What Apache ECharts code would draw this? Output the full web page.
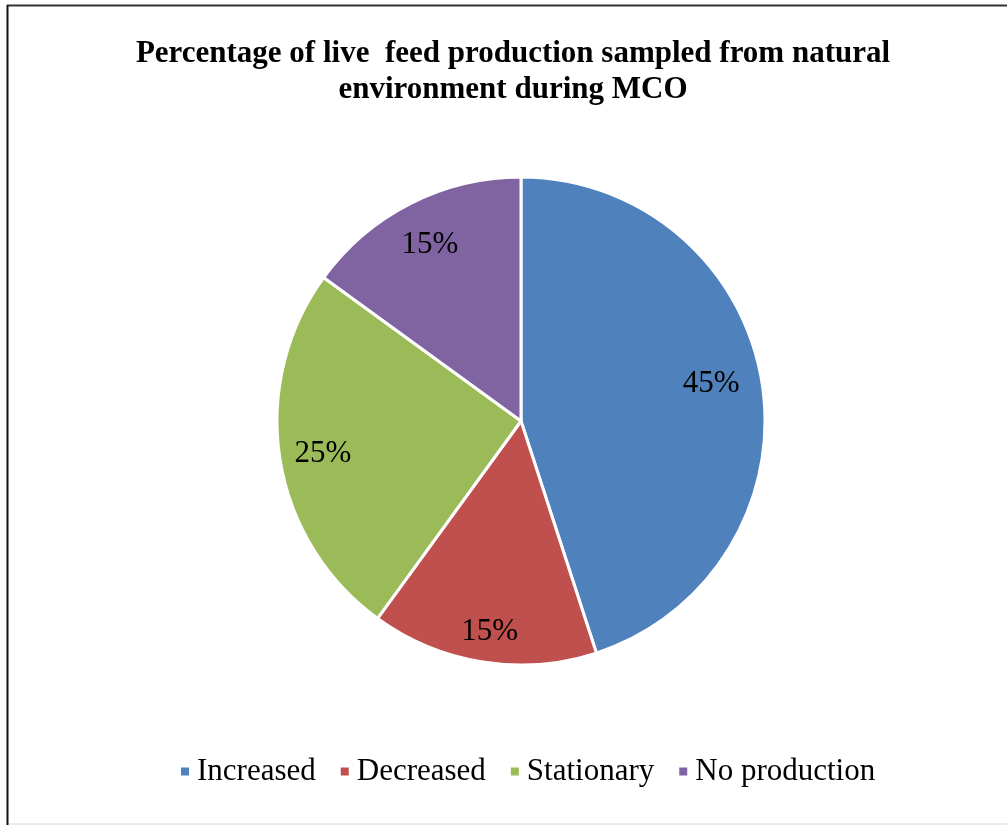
<!DOCTYPE html>
<html>
<head>
<meta charset="utf-8">
<title>Live feed production during MCO</title>
<script src="https://cdn.jsdelivr.net/npm/echarts@6/dist/echarts.min.js"></script>
<style>
  html, body { margin: 0; padding: 0; background: #ffffff; }
  #chart { width: 1007px; height: 825px; }
</style>
</head>
<body>
<div id="chart"></div>
<script>
// Categories and their shares (%)
const categories = ['Increased', 'Decreased', 'Stationary', 'No production'];
const shares = [45, 15, 25, 15];
const colors = ['#4F81BD', '#C0504D', '#9BBB59', '#8064A2'];

const titleLines = [
  'Percentage of live  feed production sampled from natural',
  'environment during MCO'
];

const serif = '"Liberation Serif", "Times New Roman", serif';
const cx = 521, cy = 421, R = 244;

// small nudges (top, right, bottom, left) so each percentage sits inside its slice
const labelNudge = [[0, 16, 12, 0], [26, 0, 0, 0], [2, 0, 0, 0], [6, 0, 0, 0]];

const pieData = categories.map((name, i) => ({
  name: name,
  value: shares[i],
  itemStyle: { color: colors[i] }
}));

const chart = echarts.init(document.getElementById('chart'), null, { renderer: 'canvas' });

chart.setOption({
  backgroundColor: '#ffffff',
  animation: false,
  color: colors,
  title: {
    text: titleLines.join('\n'),
    left: 508,
    top: 31,
    textAlign: 'center',
    textStyle: {
      fontFamily: serif,
      fontWeight: 'bold',
      fontSize: 31,
      lineHeight: 36,
      color: '#000000'
    }
  },
  legend: {
    data: categories,
    left: 174,
    top: 751,
    itemWidth: 10,
    itemHeight: 10,
    itemGap: 23,
    icon: 'rect',
    textStyle: { fontFamily: serif, fontSize: 31, color: '#000000', padding: [0, 0, 0, 2] }
  },
  graphic: [
    // chart frame: dark top and left edges, faint bottom edge
    { type: 'line', shape: { x1: 7, y1: 5.5, x2: 1007, y2: 5.5 }, style: { stroke: '#333333', lineWidth: 2 } },
    { type: 'line', shape: { x1: 7.5, y1: 5, x2: 7.5, y2: 825 }, style: { stroke: '#111111', lineWidth: 2 } },
    { type: 'line', shape: { x1: 9, y1: 824, x2: 1007, y2: 824 }, style: { stroke: '#d8d8d8', lineWidth: 1 } }
  ],
  series: [
    {
      type: 'pie',
      center: [cx, cy],
      radius: [0, R],
      startAngle: 90,
      clockwise: true,
      avoidLabelOverlap: false,
      label: { show: false },
      labelLine: { show: false },
      itemStyle: { borderColor: '#ffffff', borderWidth: 3 },
      emphasis: { disabled: true },
      data: pieData
    },
    {
      // transparent ring used only to place the percentage labels
      type: 'pie',
      center: [cx, cy],
      radius: [R * 0.62, R],
      startAngle: 90,
      clockwise: true,
      silent: true,
      avoidLabelOverlap: false,
      itemStyle: { color: 'rgba(0,0,0,0)', borderWidth: 0 },
      label: {
        show: true,
        position: 'inside',
        formatter: '{v|{c}%}',
        fontFamily: serif,
        fontSize: 31,
        color: '#000000'
      },
      labelLine: { show: false },
      emphasis: { disabled: true },
      data: categories.map((name, i) => ({
        name: name,
        value: shares[i],
        label: {
          rich: {
            v: { fontFamily: serif, fontSize: 31, color: '#000000', padding: labelNudge[i] }
          }
        }
      }))
    }
  ]
});
</script>
</body>
</html>
